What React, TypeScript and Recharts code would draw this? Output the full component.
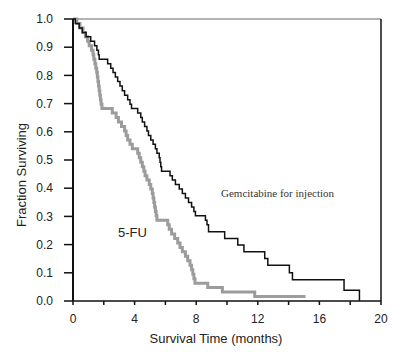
import React from 'react';
import { LineChart, Line, XAxis, YAxis, ReferenceLine, ReferenceDot } from 'recharts';

// Kaplan-Meier estimates: time (months) at which each step begins, and the surviving fraction after it
const gemTime = [0, 0.15, 0.4, 0.6, 0.85, 1.15, 1.4, 1.55, 1.65, 1.7, 2.25, 2.45, 2.6, 2.75, 2.9, 3.05, 3.2, 3.35, 3.55, 3.7, 3.8, 4.2, 4.4, 4.5, 4.65, 4.8, 4.9, 5.05, 5.2, 5.35, 5.45, 5.6, 5.65, 5.7, 5.75, 6.3, 6.45, 6.65, 6.9, 7.1, 7.3, 7.5, 7.7, 7.85, 7.95, 8.6, 8.7, 8.8, 9.85, 10.7, 11.1, 12.45, 12.65, 14.05, 14.25, 17.6, 18.6];
const gemSurv = [1.0, 0.984, 0.968, 0.952, 0.937, 0.921, 0.905, 0.889, 0.873, 0.857, 0.841, 0.825, 0.81, 0.794, 0.778, 0.762, 0.746, 0.73, 0.714, 0.698, 0.683, 0.667, 0.651, 0.635, 0.619, 0.603, 0.587, 0.571, 0.556, 0.54, 0.524, 0.508, 0.492, 0.476, 0.46, 0.444, 0.429, 0.413, 0.397, 0.381, 0.365, 0.349, 0.333, 0.317, 0.302, 0.286, 0.27, 0.246, 0.222, 0.199, 0.175, 0.151, 0.127, 0.1, 0.075, 0.038, 0];

const fuTime = [0, 0.25, 0.45, 0.65, 0.8, 0.95, 1.05, 1.2, 1.3, 1.35, 1.42, 1.48, 1.54, 1.58, 1.62, 1.66, 1.7, 1.74, 1.78, 1.82, 1.88, 2.55, 2.8, 2.95, 3.15, 3.35, 3.45, 3.55, 3.7, 3.85, 4.2, 4.3, 4.4, 4.5, 4.6, 4.68, 4.8, 4.95, 5.05, 5.15, 5.2, 5.25, 5.3, 5.35, 5.4, 5.45, 6.15, 6.25, 6.4, 6.6, 6.8, 6.95, 7.1, 7.3, 7.45, 7.6, 7.7, 7.78, 7.85, 7.92, 8.75, 9.7, 11.8, 15.1];
const fuSurv = [1.0, 0.984, 0.968, 0.952, 0.937, 0.921, 0.905, 0.889, 0.873, 0.857, 0.841, 0.825, 0.81, 0.794, 0.778, 0.762, 0.746, 0.73, 0.714, 0.698, 0.683, 0.667, 0.651, 0.635, 0.619, 0.603, 0.587, 0.571, 0.556, 0.54, 0.524, 0.508, 0.492, 0.476, 0.46, 0.444, 0.429, 0.413, 0.397, 0.381, 0.365, 0.349, 0.333, 0.317, 0.302, 0.286, 0.27, 0.254, 0.238, 0.222, 0.206, 0.19, 0.175, 0.159, 0.143, 0.127, 0.111, 0.095, 0.079, 0.063, 0.048, 0.032, 0.016, 0.016];

const xTicks = [0, 2, 4, 6, 8, 10, 12, 14, 16, 18, 20];
const yTicks = [0, 0.1, 0.2, 0.3, 0.4, 0.5, 0.6, 0.7, 0.8, 0.9, 1.0];

const toPoints = (times: number[], surv: number[]) => times.map((t, i) => ({ t, s: surv[i] }));
const gemData = toPoints(gemTime, gemSurv);
const fuData = toPoints(fuTime, fuSurv);

const sans = 'Liberation Sans, Arial, sans-serif';

export default function App() {
  return (
    <div style={{ position: 'absolute', left: 0, top: 0, background: '#fff' }}>
      <LineChart
        width={400}
        height={352}
        margin={{ top: 19, right: 19, left: 0, bottom: 0 }}
        style={{ fontFamily: sans }}
      >
        <XAxis
          dataKey="t"
          type="number"
          domain={[0, 20]}
          ticks={xTicks}
          interval={0}
          allowDuplicatedCategory={false}
          tickFormatter={(v: number) => (v % 4 === 0 ? String(v) : '')}
          height={51}
          tickSize={4}
          tickMargin={9}
          axisLine={{ stroke: '#111', strokeWidth: 1.5 }}
          tickLine={{ stroke: '#111', strokeWidth: 1.5 }}
          tick={{ fill: '#222', fontSize: 12, fontFamily: sans }}
          label={{ value: 'Survival Time (months)', position: 'insideBottom', offset: 9, dx: -11, fill: '#222', fontSize: 13, fontFamily: sans }}
        />
        <YAxis
          dataKey="s"
          type="number"
          domain={[0, 1]}
          ticks={yTicks}
          interval={0}
          width={73}
          tickSize={9}
          tickMargin={11}
          tickFormatter={(v: number) => v.toFixed(1)}
          axisLine={{ stroke: '#111', strokeWidth: 2 }}
          tickLine={{ stroke: '#111', strokeWidth: 1.5 }}
          tick={{ fill: '#222', fontSize: 12, fontFamily: sans }}
          label={{ value: 'Fraction Surviving', angle: -90, position: 'center', dx: -15, dy: 15, fill: '#222', fontSize: 13, fontFamily: sans }}
        />
        <ReferenceLine y={1} stroke="#666" strokeWidth={1} />
        <ReferenceLine x={20} stroke="#111" strokeWidth={1.5} />
        <Line
          data={fuData}
          dataKey="s"
          type="stepAfter"
          stroke="#9c9c9c"
          strokeWidth={3}
          dot={false}
          isAnimationActive={false}
        />
        <Line
          data={gemData}
          dataKey="s"
          type="stepAfter"
          stroke="#111"
          strokeWidth={1.5}
          dot={false}
          isAnimationActive={false}
        />
        <ReferenceDot
          x={3.86}
          y={0.243}
          r={0}
          label={{ value: '5-FU', position: 'center', fill: '#222', fontSize: 13, fontFamily: sans }}
        />
        <ReferenceDot
          x={13.28}
          y={0.383}
          r={0}
          label={{ value: 'Gemcitabine for injection', position: 'center', fill: '#333', fontSize: 11, fontFamily: 'Liberation Serif, Times New Roman, serif' }}
        />
      </LineChart>
    </div>
  );
}
